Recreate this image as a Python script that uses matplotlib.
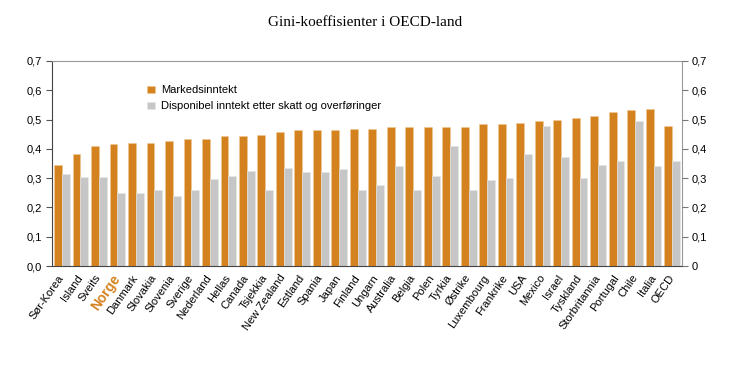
import matplotlib
matplotlib.use("Agg")
import matplotlib.pyplot as plt
import numpy as np

# Gini coefficients per country
land = ["Sør-Korea", "Island", "Sveits", "Norge", "Danmark", "Slovakia", "Slovenia",
        "Sverige", "Nederland", "Hellas", "Canada", "Tsjekkia", "New Zealand", "Estland",
        "Spania", "Japan", "Finland", "Ungarn", "Australia", "Belgia", "Polen", "Tyrkia",
        "Østrike", "Luxembourg", "Frankrike", "USA", "Mexico", "Israel", "Tyskland",
        "Storbritannia", "Portugal", "Chile", "Italia", "OECD"]
markedsinntekt = [0.345, 0.383, 0.41, 0.415, 0.421, 0.421, 0.427, 0.432, 0.432, 0.443,
                  0.443, 0.448, 0.457, 0.463, 0.463, 0.463, 0.469, 0.469, 0.475, 0.475,
                  0.475, 0.475, 0.475, 0.484, 0.484, 0.49, 0.495, 0.5, 0.505, 0.511,
                  0.527, 0.532, 0.537, 0.479]
disponibel = [0.313, 0.304, 0.304, 0.25, 0.25, 0.261, 0.24, 0.261, 0.298, 0.309,
              0.325, 0.26, 0.335, 0.32, 0.32, 0.33, 0.26, 0.277, 0.341, 0.26,
              0.309, 0.41, 0.26, 0.294, 0.299, 0.383, 0.479, 0.372, 0.299, 0.345,
              0.357, 0.495, 0.341, 0.357]
yticks = [0, 0.1, 0.2, 0.3, 0.4, 0.5, 0.6, 0.7]
left_labels = ["0,0", "0,1", "0,2", "0,3", "0,4", "0,5", "0,6", "0,7"]
right_labels = ["0", "0,1", "0,2", "0,3", "0,4", "0,5", "0,6", "0,7"]

orange = "#D4821F"
grey = "#C6C6C6"

plt.rcParams['font.family'] = ['Liberation Sans', 'DejaVu Sans']

fig = plt.figure(figsize=(7.3, 3.67), dpi=100)
ax = fig.add_axes([52 / 730, 1 - 266 / 367, 630 / 730, 205 / 367])

x = np.arange(len(land))
w = 0.42
b1 = ax.bar(x - w / 2, markedsinntekt, w, color=orange, edgecolor="#F0C896", linewidth=0.4,
            label="Markedsinntekt")
b2 = ax.bar(x + w / 2, disponibel, w, color=grey, edgecolor="#E6E6E6", linewidth=0.4,
            label="Disponibel inntekt etter skatt og overføringer")

ax.set_xlim(-0.53, len(land) - 1 + 0.53)
ax.set_ylim(0, 0.7)
ax.set_yticks(yticks)
ax.set_yticklabels(left_labels, fontsize=8)
ax.tick_params(axis="y", direction="out", length=4, color="#555555", pad=3)

ax.set_xticks(x)
ax.set_xticklabels(land, rotation=55, ha="right", va="center", rotation_mode="anchor",
                   fontsize=8)
ax.tick_params(axis="x", length=0, pad=7)
for lbl in ax.get_xticklabels():
    if lbl.get_text() == "Norge":
        lbl.set_color(orange)
        lbl.set_fontweight("bold")
        lbl.set_fontsize(10)

ax.spines["left"].set_color("#444444")
ax.spines["bottom"].set_color("#444444")
ax.spines["top"].set_color("#999999")
ax.spines["right"].set_color("#999999")

ax2 = ax.twinx()
ax2.set_ylim(0, 0.7)
ax2.set_yticks(yticks)
ax2.set_yticklabels(right_labels, fontsize=8)
ax2.tick_params(axis="y", direction="out", length=4, color="#777777", pad=3)
for s in ax2.spines.values():
    s.set_visible(False)

ax.legend(loc="upper left", bbox_to_anchor=(0.135, 0.93), frameon=False, fontsize=8,
          handlelength=0.7, handleheight=0.7, handletextpad=0.6, labelspacing=0.55)

fig.text(0.5, 1 - 22 / 367, "Gini-koeffisienter i OECD-land", ha="center", va="center",
         fontsize=11, family="Liberation Serif")

fig.savefig("out.png", dpi=100)
